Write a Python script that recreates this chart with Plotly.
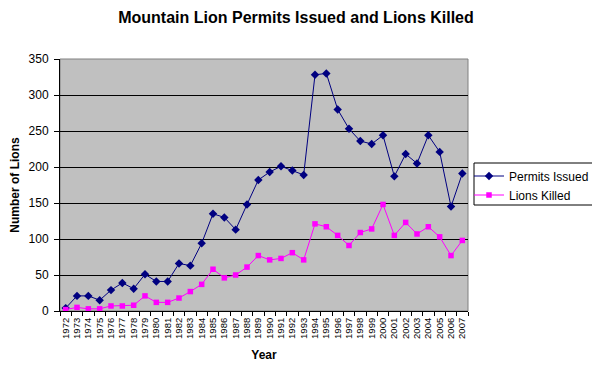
import plotly.graph_objects as go

years = [str(y) for y in range(1972, 2008)]
permits_issued = [4, 21, 21, 15, 29, 39, 31, 51, 41, 41, 66, 63, 94, 135, 130, 113, 148, 182,
                  193, 201, 195, 189, 328, 330, 280, 253, 236, 232, 244, 187, 218, 205, 244, 221, 145, 191]
lions_killed = [2, 5, 3, 3, 7, 7, 8, 21, 12, 12, 18, 27, 37, 58, 46, 50, 61, 77,
                71, 73, 81, 71, 121, 117, 105, 91, 109, 114, 148, 105, 123, 107, 117, 103, 77, 98]

FONT = "Liberation Sans, Arial, sans-serif"
W, H = 592, 358          # page body has an 8px margin
L, R, T, B = 52, 132, 51, 55
PW, PH = W - L - R, H - T - B

fig = go.Figure()
fig.add_trace(go.Scatter(x=years, y=permits_issued, name="Permits Issued", mode="lines+markers",
                         line=dict(color="#000080", width=1),
                         marker=dict(symbol="diamond", size=6.5, color="#000080")))
fig.add_trace(go.Scatter(x=years, y=lions_killed, name="Lions Killed", mode="lines+markers",
                         line=dict(color="#ff00ff", width=1),
                         marker=dict(symbol="square", size=5.5, color="#ff00ff")))

fig.update_layout(
    width=W, height=H,
    margin=dict(l=L, r=R, t=T, b=B, autoexpand=False),
    paper_bgcolor="white", plot_bgcolor="#c0c0c0",
    font=dict(family=FONT, color="black"),
    title=dict(text="<b>Mountain Lion Permits Issued and Lions Killed</b>",
               x=288 / W, xanchor="center", y=1 - 9 / H, yanchor="middle",
               font=dict(size=16, family=FONT)),
    legend=dict(xref="container", yref="container", x=461 / W, y=1 - 153.5 / H,
                xanchor="left", yanchor="top", borderwidth=0,
                bgcolor="rgba(0,0,0,0)", font=dict(size=12, family=FONT),
                itemwidth=30),
    showlegend=True,
)
fig.update_xaxes(type="category", range=[-0.5, 35.5], tickangle=-90,
                 tickfont=dict(size=9.5), ticks="outside", ticklen=4, tickcolor="black",
                 ticklabelstandoff=2,
                 tickson="boundaries", showgrid=False, showline=True, linecolor="black",
                 linewidth=1, automargin=False,
                 title=dict(text="<b>Year</b>", font=dict(size=12), standoff=12))
fig.update_yaxes(range=[0, 350], dtick=50, tickfont=dict(size=12), ticks="outside",
                 ticklen=5, tickcolor="black", ticklabelstandoff=3,
                 showgrid=True, gridcolor="#000000",
                 gridwidth=1, showline=True, linecolor="black", linewidth=1, zeroline=False,
                 automargin=False,
                 title=dict(text="<b>Number of Lions</b>", font=dict(size=12), standoff=8))
# plot-area frame (grey top/right edges)
fig.add_shape(type="rect", xref="paper", yref="paper", x0=0, y0=0, x1=1, y1=1,
              line=dict(color="#808080", width=1), layer="below")
# legend frame
fig.add_shape(type="rect", xref="paper", yref="paper",
              x0=(466 - L) / PW, x1=(589 - L) / PW,
              y0=(H - B - 197) / PH, y1=(H - B - 155) / PH,
              line=dict(color="black", width=1), fillcolor="rgba(0,0,0,0)")

fig.write_html("out.html")
